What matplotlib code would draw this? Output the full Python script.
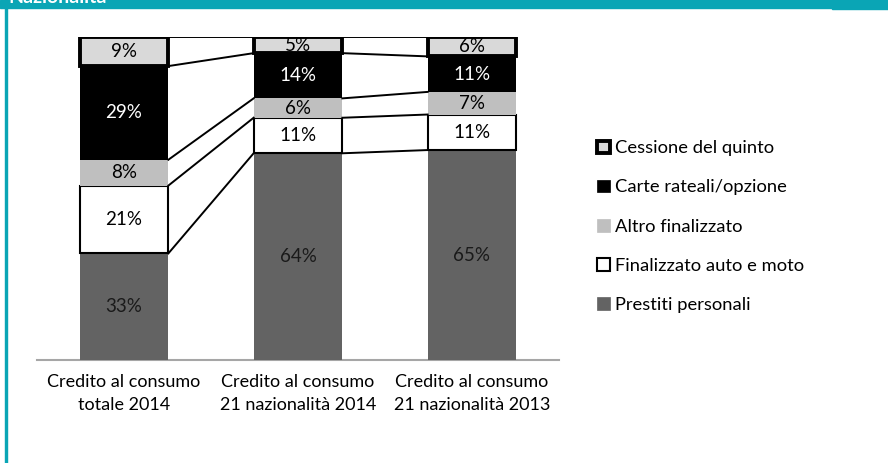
import numpy as np
import matplotlib.pyplot as plt
from matplotlib.patches import Patch

plt.rcParams['font.family'] = ['Lato', 'DejaVu Sans']

categories = ['Credito al consumo\ntotale 2014',
              'Credito al consumo\n21 nazionalità 2014',
              'Credito al consumo\n21 nazionalità 2013']
series = ['Prestiti personali', 'Finalizzato auto e moto', 'Altro finalizzato',
          'Carte rateali/opzione', 'Cessione del quinto']
prestiti = [33, 64, 65]
auto_moto = [21, 11, 11]
altro = [8, 6, 7]
carte = [29, 14, 11]
cessione = [9, 5, 6]

values = np.array([prestiti, auto_moto, altro, carte, cessione]) / 100.0
facecolors = ['#636363', '#ffffff', '#bfbfbf', '#000000', '#d9d9d9']
edgewidths = [0, 1.5, 0, 0, 2.8]
textcolors = ['#1a1a1a', '#000000', '#000000', '#ffffff', '#000000']

teal = '#0aa5b5'
fig = plt.figure(figsize=(8.88, 4.63), dpi=100)
ax = fig.add_axes([37 / 888, 1 - 360 / 463, 522 / 888, 323 / 463])

x = np.arange(len(categories))
width = 0.51
bottoms = np.zeros(len(categories))
tops = []
for i, name in enumerate(series):
    ax.bar(x, values[i], width, bottom=bottoms, color=facecolors[i],
           edgecolor='black', linewidth=edgewidths[i], label=name, zorder=3)
    for j in range(len(x)):
        ax.text(x[j], bottoms[j] + values[i][j] / 2, '%d%%' % round(values[i][j] * 100),
                ha='center', va='center', fontsize=13.5, color=textcolors[i], zorder=5)
    bottoms = bottoms + values[i]
    tops.append(bottoms.copy())

# series lines between the bars
for t in tops:
    for j in range(len(x) - 1):
        ax.plot([x[j] + width / 2, x[j + 1] - width / 2], [t[j], t[j + 1]],
                color='black', linewidth=1.4, zorder=4)

ax.set_xlim(-0.5, 2.5)
ax.set_ylim(0, 1.0)
ax.set_yticks([])
ax.set_xticks(x)
ax.set_xticklabels(categories, fontsize=13, linespacing=1.55)
ax.tick_params(axis='x', length=0, pad=10)
for s in ['top', 'right', 'left']:
    ax.spines[s].set_visible(False)
ax.spines['bottom'].set_color('#a6a6a6')
ax.spines['bottom'].set_linewidth(1.5)

handles = []
for i in reversed(range(len(series))):
    ec = 'black' if edgewidths[i] > 0 else facecolors[i]
    handles.append(Patch(facecolor=facecolors[i], edgecolor=ec,
                         linewidth=max(edgewidths[i], 0.5), label=series[i]))
fig.legend(handles=handles, loc='upper left', bbox_to_anchor=(590 / 888, 1 - 133 / 463),
           frameon=False, fontsize=13.2, handlelength=0.7, handleheight=0.7,
           handletextpad=0.25, labelspacing=1.26, borderaxespad=0)

# frame decoration
fig.patches.append(plt.Rectangle((0, 1 - 8 / 463), 1, 8 / 463, transform=fig.transFigure,
                                 color=teal, zorder=0))
fig.patches.append(plt.Rectangle((832 / 888, 1 - 9 / 463), 56 / 888, 9 / 463,
                                 transform=fig.transFigure, color=teal, zorder=0))
fig.patches.append(plt.Rectangle((5 / 888, 0), 2 / 888, 1 - 8 / 463, transform=fig.transFigure,
                                 color=teal, zorder=0))
fig.text(8 / 888, 1 - 3 / 463, 'Nazionalità', color='white', fontsize=14,
         fontweight='bold', va='baseline', ha='left')

fig.savefig('out.png', dpi=100)
